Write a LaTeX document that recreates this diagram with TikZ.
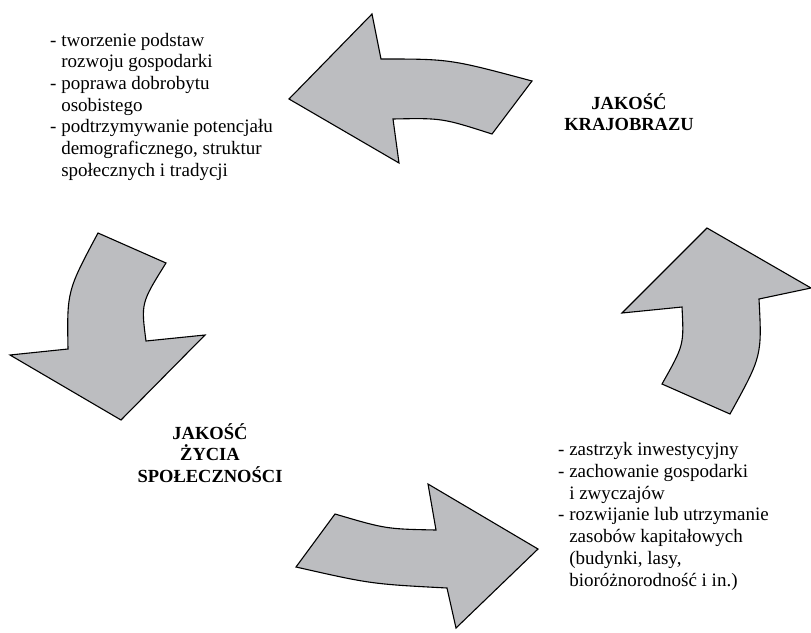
\documentclass[tikz,border=0pt]{standalone}
\usepackage{fontspec}
\setmainfont{Liberation Serif}
\definecolor{arrowgray}{RGB}{188,189,192}

\begin{document}
\begin{tikzpicture}[x=1pt,y=-1pt,
  arrowshape/.style={draw=black,fill=arrowgray,line width=1.1pt,line join=miter},
  listtext/.style={align=left,anchor=base west,inner sep=0pt,font=\fontsize{19}{21.7}\selectfont},
  headtext/.style={align=center,anchor=base,inner sep=0pt,font=\fontsize{18.5}{21.7}\selectfont\bfseries}]
\useasboundingbox (0,0) rectangle (811,632);
% arrows
\draw[arrowshape] (289,99) -- (372,14) -- (381,59) .. controls (450,59) .. (532,81)
  -- (492,134) .. controls (442,118) .. (393,119) -- (399,163) -- cycle;
\draw[arrowshape] (98,233) -- (166,263) .. controls (141,303) .. (146,341)
  -- (205,335) -- (121,420) -- (10,355) -- (68,349) .. controls (67,291) .. cycle;
\draw[arrowshape] (538,549) -- (428,484) -- (436,530) .. controls (386,529) .. (335,514)
  -- (296,567) .. controls (371,584) .. (447,588) -- (456,628) -- cycle;
\draw[arrowshape] (707,228) -- (811,288) -- (759,299) .. controls (762,356) .. (730,414)
  -- (662,384) .. controls (684,345) .. (682,307) -- (622,313) -- cycle;
% texts (base = last line)
\node (landscape) [headtext] at (629,130.7) {JAKOŚĆ\\KRAJOBRAZU};
\node (community) [headtext] at (210,482.4) {JAKOŚĆ\\ŻYCIA\\SPOŁECZNOŚCI};
\node (effects) [listtext] at (50,176.2) {- tworzenie podstaw\\
  \phantom{- }rozwoju gospodarki\\
  - poprawa dobrobytu\\
  \phantom{- }osobistego\\
  - podtrzymywanie potencjału\\
  \phantom{- }demograficznego, struktur\\
  \phantom{- }społecznych i tradycji};
\node (inputs) [listtext] at (558,586) {- zastrzyk inwestycyjny\\
  - zachowanie gospodarki\\
  \phantom{- }i zwyczajów\\
  - rozwijanie lub utrzymanie\\
  \phantom{- }zasobów kapitałowych\\
  \phantom{- }(budynki, lasy,\\
  \phantom{- }bioróżnorodność i in.)};
\end{tikzpicture}
\end{document}
